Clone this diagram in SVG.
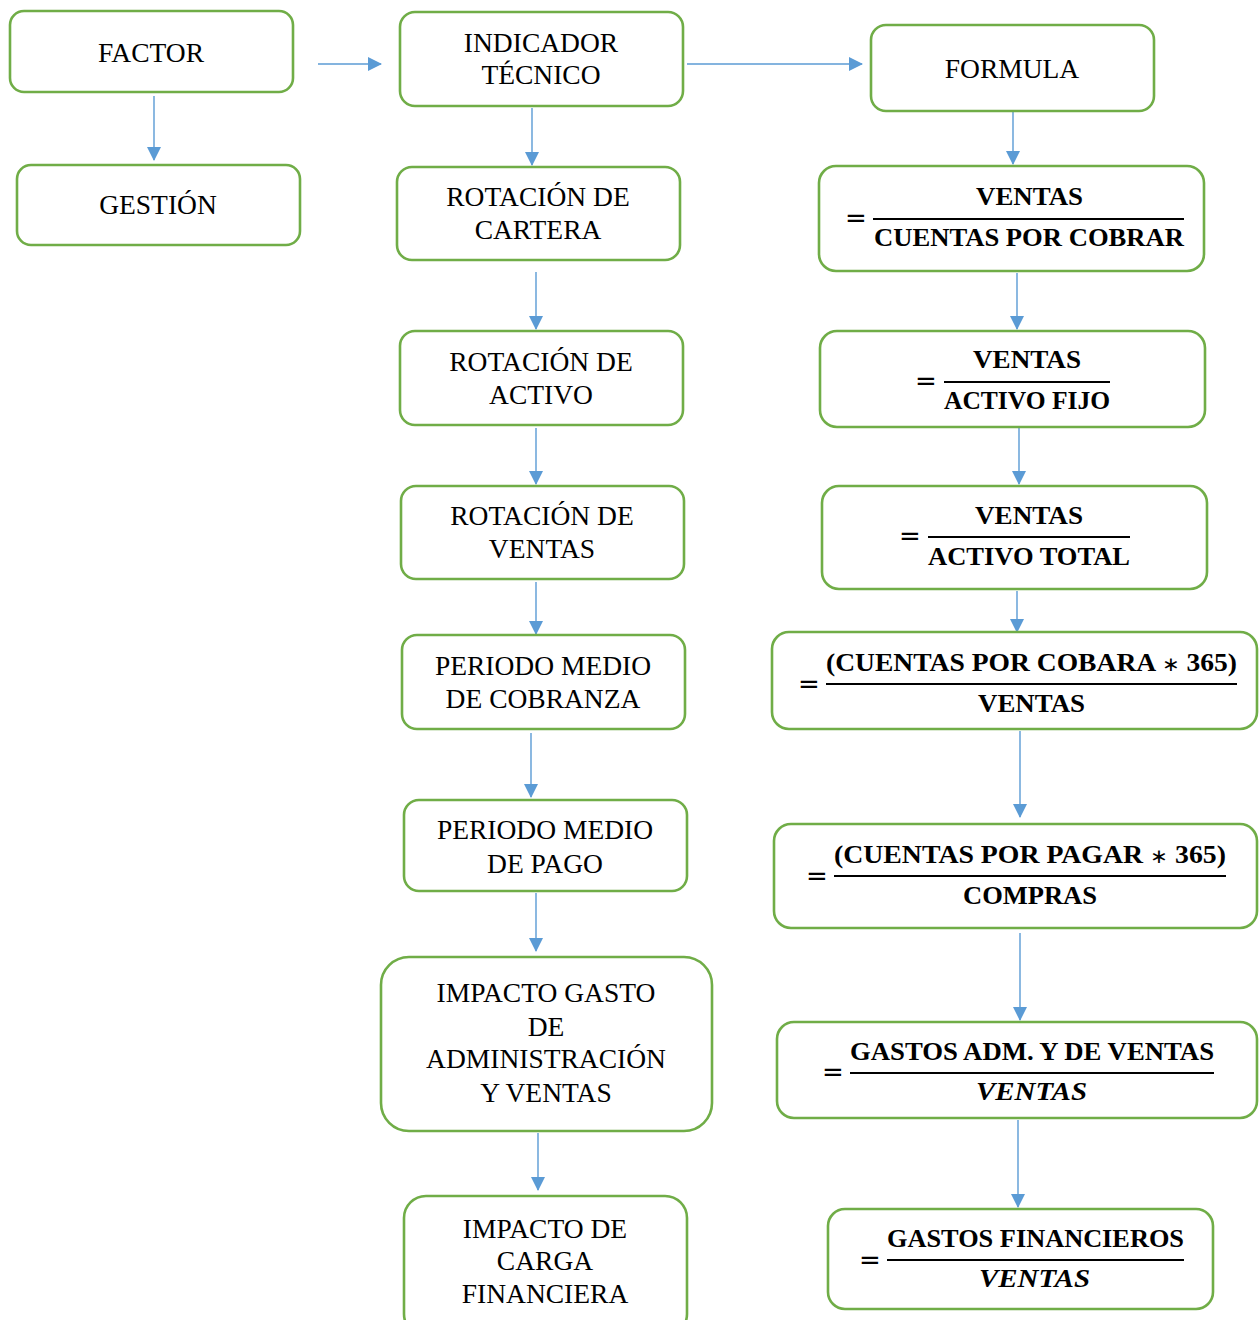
<svg xmlns="http://www.w3.org/2000/svg" width="1260" height="1320" viewBox="0 0 1260 1320">
  <defs>
    <marker id="arr" markerWidth="14" markerHeight="14" refX="13" refY="7" orient="auto" markerUnits="userSpaceOnUse">
      <path d="M0,0 L14,7 L0,14 Z" fill="#5B9BD5"/>
    </marker>
    <style>
      .box { fill: #ffffff; stroke: #70AD47; stroke-width: 2.6; }
      .lbl { font-family: "Liberation Serif", "Times New Roman", serif; font-size: 27.5px; fill: #000; text-anchor: middle; }
      .fx { font-family: "Liberation Serif", "Times New Roman", serif; font-weight: bold; font-size: 26px; fill: #000; }
      .fxi { font-style: italic; }
      .ast { font-weight: normal; font-size: 20px; }
      .eq { font-family: "DejaVu Sans", sans-serif; font-size: 26px; fill: #000; }
      .bar { stroke: #000; stroke-width: 2; }
      .con { stroke: #5B9BD5; stroke-width: 1.4; fill: none; marker-end: url(#arr); }
    </style>
  </defs>
  <rect width="1260" height="1320" fill="#ffffff"/>

  <!-- connectors -->
  <g id="connectors">
    <line class="con" x1="318" y1="64" x2="381" y2="64"/>
    <line class="con" x1="154" y1="96" x2="154" y2="160"/>
    <line class="con" x1="687" y1="64" x2="862" y2="64"/>
    <line class="con" x1="532" y1="108" x2="532" y2="165"/>
    <line class="con" x1="536" y1="272" x2="536" y2="329"/>
    <line class="con" x1="536" y1="428" x2="536" y2="484"/>
    <line class="con" x1="536" y1="582" x2="536" y2="634"/>
    <line class="con" x1="531" y1="733" x2="531" y2="797"/>
    <line class="con" x1="536" y1="893" x2="536" y2="951"/>
    <line class="con" x1="538" y1="1133" x2="538" y2="1190"/>
    <line class="con" x1="1013" y1="111" x2="1013" y2="164"/>
    <line class="con" x1="1017" y1="273" x2="1017" y2="329"/>
    <line class="con" x1="1019" y1="428" x2="1019" y2="484"/>
    <line class="con" x1="1017" y1="591" x2="1017" y2="632"/>
    <line class="con" x1="1020" y1="731" x2="1020" y2="817"/>
    <line class="con" x1="1020" y1="933" x2="1020" y2="1020"/>
    <line class="con" x1="1018" y1="1120" x2="1018" y2="1207"/>
  </g>

  <!-- left column -->
  <g id="factor">
    <rect class="box" x="10" y="11" width="283" height="81" rx="14"/>
    <text class="lbl" x="151" y="62">FACTOR</text>
  </g>
  <g id="gestion">
    <rect class="box" x="17" y="165" width="283" height="80" rx="14"/>
    <text class="lbl" x="158" y="214">GESTIÓN</text>
  </g>

  <!-- indicator column -->
  <g id="indicador">
    <rect class="box" x="400" y="12" width="283" height="94" rx="15"/>
    <text class="lbl" x="541" y="52">INDICADOR</text>
    <text class="lbl" x="541" y="84">TÉCNICO</text>
  </g>
  <g id="rot-cartera">
    <rect class="box" x="397" y="167" width="283" height="93" rx="15"/>
    <text class="lbl" x="538" y="206">ROTACIÓN DE</text>
    <text class="lbl" x="538" y="239">CARTERA</text>
  </g>
  <g id="rot-activo">
    <rect class="box" x="400" y="331" width="283" height="94" rx="15"/>
    <text class="lbl" x="541" y="371">ROTACIÓN DE</text>
    <text class="lbl" x="541" y="404">ACTIVO</text>
  </g>
  <g id="rot-ventas">
    <rect class="box" x="401" y="486" width="283" height="93" rx="15"/>
    <text class="lbl" x="542" y="525">ROTACIÓN DE</text>
    <text class="lbl" x="542" y="558">VENTAS</text>
  </g>
  <g id="pm-cobranza">
    <rect class="box" x="402" y="635" width="283" height="94" rx="15"/>
    <text class="lbl" x="543" y="675">PERIODO MEDIO</text>
    <text class="lbl" x="543" y="708">DE COBRANZA</text>
  </g>
  <g id="pm-pago">
    <rect class="box" x="404" y="800" width="283" height="91" rx="15"/>
    <text class="lbl" x="545" y="839">PERIODO MEDIO</text>
    <text class="lbl" x="545" y="873">DE PAGO</text>
  </g>
  <g id="impacto-gasto">
    <rect class="box" x="381" y="957" width="331" height="174" rx="28"/>
    <text class="lbl" x="546" y="1002">IMPACTO GASTO</text>
    <text class="lbl" x="546" y="1036">DE</text>
    <text class="lbl" x="546" y="1068">ADMINISTRACIÓN</text>
    <text class="lbl" x="546" y="1102">Y VENTAS</text>
  </g>
  <g id="impacto-carga">
    <rect class="box" x="404" y="1196" width="283" height="140" rx="22"/>
    <text class="lbl" x="545" y="1238">IMPACTO DE</text>
    <text class="lbl" x="545" y="1270">CARGA</text>
    <text class="lbl" x="545" y="1303">FINANCIERA</text>
  </g>

  <!-- formula column -->
  <g id="formula">
    <rect class="box" x="871" y="25" width="283" height="86" rx="15"/>
    <text class="lbl" x="1012" y="78">FORMULA</text>
  </g>
  <g id="f-cartera">
    <rect class="box" x="819" y="166" width="385" height="105" rx="17"/>
    <text class="eq" x="845" y="227">=</text>
    <text class="fx" x="976" y="205" textLength="107" lengthAdjust="spacingAndGlyphs">VENTAS</text>
    <line class="bar" x1="873" y1="219" x2="1184" y2="219"/>
    <text class="fx" x="874" y="246" textLength="310" lengthAdjust="spacingAndGlyphs">CUENTAS POR COBRAR</text>
  </g>
  <g id="f-activo">
    <rect class="box" x="820" y="331" width="385" height="96" rx="17"/>
    <text class="eq" x="915" y="390">=</text>
    <text class="fx" x="973" y="368" textLength="108" lengthAdjust="spacingAndGlyphs">VENTAS</text>
    <line class="bar" x1="944" y1="382" x2="1110" y2="382"/>
    <text class="fx" x="944" y="409" textLength="166" lengthAdjust="spacingAndGlyphs">ACTIVO FIJO</text>
  </g>
  <g id="f-ventas">
    <rect class="box" x="822" y="486" width="385" height="103" rx="17"/>
    <text class="eq" x="899" y="545">=</text>
    <text class="fx" x="975" y="524" textLength="108" lengthAdjust="spacingAndGlyphs">VENTAS</text>
    <line class="bar" x1="928" y1="537" x2="1130" y2="537"/>
    <text class="fx" x="928" y="565" textLength="202" lengthAdjust="spacingAndGlyphs">ACTIVO TOTAL</text>
  </g>
  <g id="f-cobranza">
    <rect class="box" x="772" y="632" width="485" height="97" rx="17"/>
    <text class="eq" x="798" y="693">=</text>
    <text class="fx" x="826" y="671" textLength="411" lengthAdjust="spacingAndGlyphs">(CUENTAS POR COBARA <tspan class="ast">∗</tspan> 365)</text>
    <line class="bar" x1="826" y1="684" x2="1237" y2="684"/>
    <text class="fx" x="978" y="712" textLength="107" lengthAdjust="spacingAndGlyphs">VENTAS</text>
  </g>
  <g id="f-pago">
    <rect class="box" x="774" y="824" width="483" height="104" rx="17"/>
    <text class="eq" x="806" y="885">=</text>
    <text class="fx" x="834" y="863" textLength="392" lengthAdjust="spacingAndGlyphs">(CUENTAS POR PAGAR <tspan class="ast">∗</tspan> 365)</text>
    <line class="bar" x1="834" y1="876" x2="1226" y2="876"/>
    <text class="fx" x="963" y="904" textLength="134" lengthAdjust="spacingAndGlyphs">COMPRAS</text>
  </g>
  <g id="f-gasto-adm">
    <rect class="box" x="777" y="1022" width="480" height="96" rx="17"/>
    <text class="eq" x="822" y="1081">=</text>
    <text class="fx" x="850" y="1060" textLength="364" lengthAdjust="spacingAndGlyphs">GASTOS ADM. Y DE VENTAS</text>
    <line class="bar" x1="850" y1="1073" x2="1214" y2="1073"/>
    <text class="fx fxi" x="976" y="1100" textLength="111" lengthAdjust="spacingAndGlyphs">VENTAS</text>
  </g>
  <g id="f-carga">
    <rect class="box" x="828" y="1209" width="385" height="100" rx="17"/>
    <text class="eq" x="859" y="1269">=</text>
    <text class="fx" x="887" y="1247" textLength="297" lengthAdjust="spacingAndGlyphs">GASTOS FINANCIEROS</text>
    <line class="bar" x1="887" y1="1260" x2="1184" y2="1260"/>
    <text class="fx fxi" x="979" y="1287" textLength="111" lengthAdjust="spacingAndGlyphs">VENTAS</text>
  </g>
</svg>
